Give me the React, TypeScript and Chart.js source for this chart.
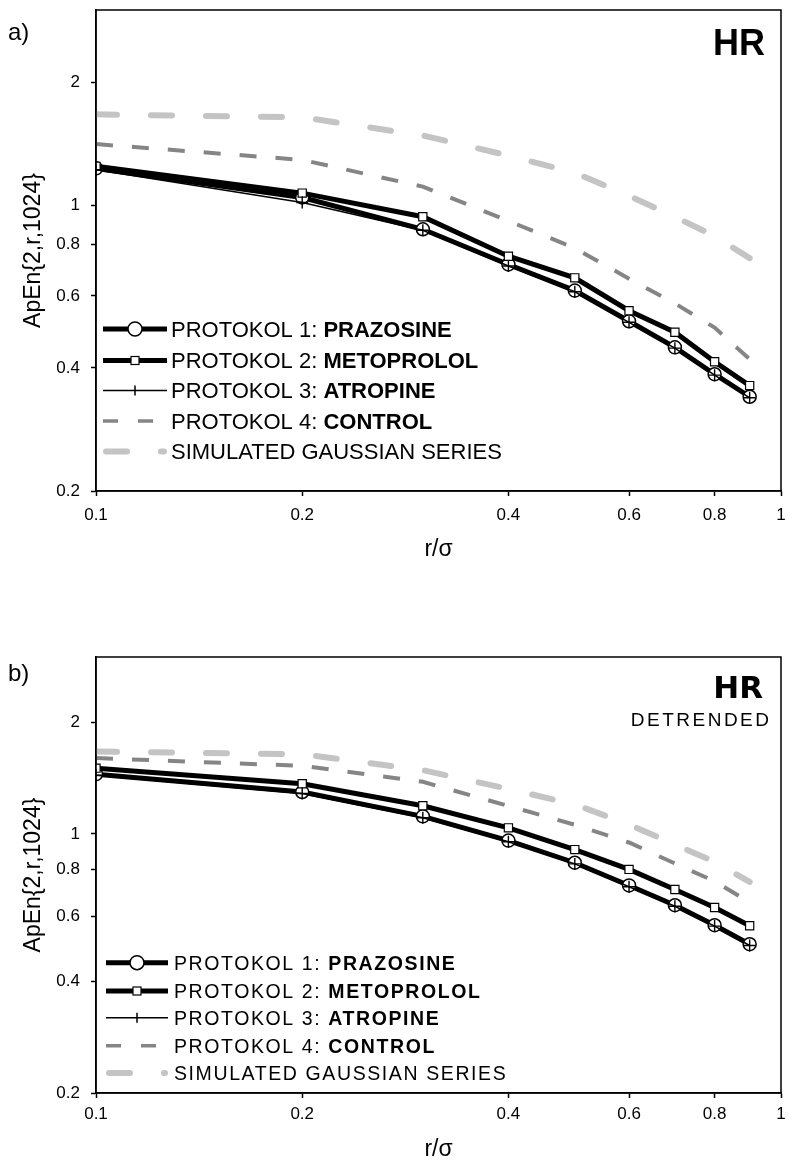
import React, { useEffect, useRef } from "react";
import { Chart, registerables } from "chart.js";

Chart.register(...registerables);

// ---------- data ----------
const rValues = [0.1, 0.2, 0.3, 0.4, 0.5, 0.6, 0.7, 0.8, 0.9];
const xTickValues = [0.1, 0.2, 0.4, 0.6, 0.8, 1];
const xTickLabels = ["0.1", "0.2", "0.4", "0.6", "0.8", "1"];
const yTickValues = [0.2, 0.4, 0.6, 0.8, 1, 2];
const yTickLabels = ["0.2", "0.4", "0.6", "0.8", "1", "2"];

const seriesNames = [
  ["PROTOKOL 1: ", "PRAZOSINE"],
  ["PROTOKOL 2: ", "METOPROLOL"],
  ["PROTOKOL 3: ", "ATROPINE"],
  ["PROTOKOL 4: ", "CONTROL"],
  ["SIMULATED GAUSSIAN SERIES", ""],
];

// panel a) HR
const prazosineA = [1.23, 1.044, 0.873, 0.716, 0.618, 0.52, 0.449, 0.386, 0.34];
const metoprololA = [1.244, 1.07, 0.937, 0.75, 0.664, 0.552, 0.489, 0.414, 0.362];
const atropineA = [1.22, 1.015, 0.868, 0.71, 0.614, 0.517, 0.447, 0.384, 0.338];
const controlA = [1.41, 1.29, 1.11, 0.915, 0.785, 0.661, 0.575, 0.502, 0.42];
const gaussianA = [1.667, 1.64, 1.48, 1.322, 1.2, 1.054, 0.936, 0.84, 0.742];

// panel b) HR detrended
const prazosineB = [1.449, 1.297, 1.115, 0.959, 0.836, 0.726, 0.642, 0.567, 0.504];
const metoprololB = [1.504, 1.365, 1.191, 1.038, 0.907, 0.802, 0.708, 0.633, 0.565];
const atropineB = [1.44, 1.285, 1.105, 0.952, 0.83, 0.72, 0.638, 0.564, 0.5];
const controlB = [1.601, 1.526, 1.382, 1.19, 1.058, 0.948, 0.832, 0.745, 0.654];
const gaussianB = [1.667, 1.64, 1.485, 1.322, 1.2, 1.06, 0.936, 0.84, 0.742];

const FONT = "'Liberation Sans', Arial, Helvetica, sans-serif";
const CTRL_COLOR = "#858585";
const GAUSS_COLOR = "#c4c4c4";

function pts(arr: number[]) {
  return rValues.map((x, i) => ({ x, y: arr[i] }));
}

function makeDatasets(praz: number[], meto: number[], atro: number[], ctrl: number[], gauss: number[]) {
  return [
    {
      label: "atropine",
      data: pts(atro),
      order: 0,
      borderColor: "#000",
      borderWidth: 1.5,
      pointStyle: "cross",
      pointRadius: 6,
      pointBorderWidth: 1.4,
      pointBorderColor: "#000",
      pointBackgroundColor: "#000",
      tension: 0,
    },
    {
      label: "metoprolol",
      data: pts(meto),
      order: 1,
      borderColor: "#000",
      borderWidth: 5,
      pointStyle: "rect",
      pointRadius: 5.8,
      pointBorderWidth: 1.2,
      pointBorderColor: "#000",
      pointBackgroundColor: "#fff",
      tension: 0,
    },
    {
      label: "prazosine",
      data: pts(praz),
      order: 2,
      borderColor: "#000",
      borderWidth: 5,
      pointStyle: "circle",
      pointRadius: 6.5,
      pointBorderWidth: 1.5,
      pointBorderColor: "#000",
      pointBackgroundColor: "#fff",
      tension: 0,
    },
    {
      label: "control",
      data: pts(ctrl),
      order: 3,
      borderColor: CTRL_COLOR,
      borderWidth: 4,
      borderDash: [17, 19],
      pointRadius: 0,
      tension: 0,
    },
    {
      label: "gaussian",
      data: pts(gauss),
      order: 4,
      borderColor: GAUSS_COLOR,
      borderWidth: 6,
      borderDash: [21, 34],
      borderCapStyle: "round",
      pointRadius: 0,
      tension: 0,
    },
  ];
}

type PanelCfg = {
  letter: string;
  letterY: number;
  yTitleX: number;
  xTitleY: number;
  hrX: number;
  hrY: number;
  hrFont: string;
  detrended: boolean;
  detX: number;
  detY: number;
  legRows: number[];
  legX0: number;
  legX1: number;
  legMX: number;
  legTX: number;
  legFont: number;
  legSpacing: number;
};

const overlayPlugin = {
  id: "overlay",
  afterDraw(chart: any, _args: any, cfg: PanelCfg) {
    const ctx: CanvasRenderingContext2D = chart.ctx;
    const { left, right, top, bottom } = chart.chartArea;
    ctx.save();
    // frame
    ctx.strokeStyle = "#000";
    ctx.lineWidth = 1.5;
    ctx.setLineDash([]);
    ctx.strokeRect(left, top, right - left, bottom - top);

    ctx.fillStyle = "#000";
    // panel letter
    ctx.font = `24px ${FONT}`;
    ctx.textAlign = "left";
    ctx.textBaseline = "alphabetic";
    ctx.fillText(cfg.letter, 8, cfg.letterY);

    // y title
    ctx.save();
    ctx.translate(cfg.yTitleX, (top + bottom) / 2);
    ctx.rotate(-Math.PI / 2);
    ctx.font = `23px ${FONT}`;
    ctx.textAlign = "center";
    ctx.fillText("ApEn{2,r,1024}", 0, 0);
    ctx.restore();

    // x title
    ctx.font = `23px ${FONT}`;
    ctx.textAlign = "center";
    ctx.fillText("r/\u03c3", (left + right) / 2, cfg.xTitleY);

    // HR label
    ctx.textAlign = "right";
    ctx.font = cfg.hrFont;
    ctx.fillText("HR", cfg.hrX, cfg.hrY);
    if (cfg.detrended) {
      ctx.font = `19px ${FONT}`;
      (ctx as any).letterSpacing = "2.5px";
      ctx.fillText("DETRENDED", cfg.detX + 2.5, cfg.detY);
      (ctx as any).letterSpacing = "0px";
    }

    // legend
    const x0 = cfg.legX0;
    const x1 = cfg.legX1;
    const mx = cfg.legMX;
    cfg.legRows.forEach((y, i) => {
      ctx.save();
      ctx.setLineDash([]);
      ctx.lineCap = "butt";
      ctx.strokeStyle = "#000";
      if (i === 0 || i === 1) {
        ctx.lineWidth = 5;
        ctx.beginPath();
        ctx.moveTo(x0, y);
        ctx.lineTo(x1, y);
        ctx.stroke();
        ctx.fillStyle = "#fff";
        if (i === 0) {
          ctx.lineWidth = 1.5;
          ctx.beginPath();
          ctx.arc(mx, y, 7, 0, Math.PI * 2);
          ctx.fill();
          ctx.stroke();
        } else {
          ctx.lineWidth = 1.2;
          ctx.fillRect(mx - 4, y - 4, 8, 8);
          ctx.strokeRect(mx - 4, y - 4, 8, 8);
        }
      } else if (i === 2) {
        ctx.lineWidth = 1.5;
        ctx.beginPath();
        ctx.moveTo(x0, y);
        ctx.lineTo(x1, y);
        ctx.moveTo(mx, y - 5);
        ctx.lineTo(mx, y + 5);
        ctx.stroke();
      } else if (i === 3) {
        ctx.strokeStyle = CTRL_COLOR;
        ctx.lineWidth = 3.5;
        ctx.setLineDash([15, 20]);
        ctx.beginPath();
        ctx.moveTo(x0, y);
        ctx.lineTo(x1, y);
        ctx.stroke();
      } else {
        ctx.strokeStyle = GAUSS_COLOR;
        ctx.lineWidth = 6;
        ctx.lineCap = "round";
        ctx.setLineDash([21, 34]);
        ctx.beginPath();
        ctx.moveTo(x0 + 3, y);
        ctx.lineTo(x1 - 3, y);
        ctx.stroke();
      }
      ctx.restore();

      const fs = cfg.legFont;
      const base = y + fs * 0.358;
      (ctx as any).letterSpacing = `${cfg.legSpacing}px`;
      ctx.textAlign = "left";
      ctx.fillStyle = "#000";
      ctx.font = `${fs}px ${FONT}`;
      const [reg, bold] = seriesNames[i];
      ctx.fillText(reg, cfg.legTX, base);
      const w = ctx.measureText(reg).width;
      if (bold) {
        ctx.font = `bold ${fs}px ${FONT}`;
        ctx.fillText(bold, cfg.legTX + w, base);
      }
      (ctx as any).letterSpacing = "0px";
    });
    ctx.restore();
  },
};

function makeConfig(
  datasets: any[],
  canvasH: number,
  plotTop: number,
  plotBottom: number,
  xPad: number,
  cfg: PanelCfg
): any {
  return {
    type: "line",
    data: { datasets },
    plugins: [overlayPlugin],
    options: {
      responsive: false,
      animation: false,
      devicePixelRatio: 1,
      events: [],
      layout: { padding: { top: plotTop, right: 2, left: 0, bottom: 0 } },
      plugins: {
        legend: { display: false },
        tooltip: { enabled: false },
        overlay: cfg,
      },
      scales: {
        x: {
          type: "logarithmic",
          position: "bottom",
          min: 0.1,
          max: 1,
          afterBuildTicks: (s: any) => {
            s.ticks = xTickValues.map((v) => ({ value: v }));
          },
          afterFit: (s: any) => {
            s.height = canvasH - plotBottom;
            s.paddingLeft = 0;
            s.paddingRight = 0;
          },
          ticks: {
            autoSkip: false,
            maxRotation: 0,
            minRotation: 0,
            padding: xPad,
            color: "#000",
            font: { family: FONT, size: 17 },
            callback: (_v: any, i: number) => xTickLabels[i],
          },
          grid: {
            drawOnChartArea: false,
            drawTicks: true,
            tickLength: 5,
            tickWidth: 1.5,
            tickColor: "#000",
          },
          border: { display: true, color: "#000", width: 1.5 },
        },
        y: {
          type: "logarithmic",
          position: "left",
          min: 0.2,
          max: 3,
          afterBuildTicks: (s: any) => {
            s.ticks = yTickValues.map((v) => ({ value: v }));
          },
          afterFit: (s: any) => {
            s.width = 96;
            s.paddingTop = 0;
            s.paddingBottom = 0;
          },
          ticks: {
            autoSkip: false,
            padding: 11,
            color: "#000",
            font: { family: FONT, size: 17 },
            callback: (_v: any, i: number) => yTickLabels[i],
          },
          grid: {
            drawOnChartArea: false,
            drawTicks: true,
            tickLength: 5,
            tickWidth: 1.5,
            tickColor: "#000",
          },
          border: { display: true, color: "#000", width: 1.5 },
        },
      },
    },
  };
}

const cfgA: PanelCfg = {
  letter: "a)",
  letterY: 40,
  yTitleX: 40,
  xTitleY: 556,
  hrX: 765,
  hrY: 55,
  hrFont: `bold 36px ${FONT}`,
  detrended: false,
  detX: 0,
  detY: 0,
  legRows: [329, 360.5, 390.5, 421, 451.5],
  legX0: 103,
  legX1: 167,
  legMX: 135,
  legTX: 171,
  legFont: 22,
  legSpacing: 0,
};

const cfgB: PanelCfg = {
  letter: "b)",
  letterY: 101,
  yTitleX: 40,
  xTitleY: 576,
  hrX: 763,
  hrY: 118,
  hrFont: `bold 31px 'DejaVu Sans', ${FONT}`,
  detrended: true,
  detX: 769,
  detY: 146,
  legRows: [382.7, 411, 437.7, 465.7, 493],
  legX0: 106,
  legX1: 168,
  legMX: 137,
  legTX: 174,
  legFont: 19.5,
  legSpacing: 1.6,
};

export default function App() {
  const refA = useRef<HTMLCanvasElement | null>(null);
  const refB = useRef<HTMLCanvasElement | null>(null);

  useEffect(() => {
    const charts: Chart[] = [];
    if (refA.current) {
      charts.push(
        new Chart(
          refA.current,
          makeConfig(
            makeDatasets(prazosineA, metoprololA, atropineA, controlA, gaussianA),
            580,
            10,
            491,
            9,
            cfgA
          )
        )
      );
    }
    if (refB.current) {
      charts.push(
        new Chart(
          refB.current,
          makeConfig(
            makeDatasets(prazosineB, metoprololB, atropineB, controlB, gaussianB),
            583,
            77,
            513,
            6,
            cfgB
          )
        )
      );
    }
    return () => charts.forEach((c) => c.destroy());
  }, []);

  return (
    <div
      style={{
        position: "absolute",
        left: 0,
        top: 0,
        width: 789,
        height: 1163,
        background: "#fff",
      }}
    >
      <canvas ref={refA} width={789} height={580} style={{ display: "block", width: 789, height: 580 }} />
      <canvas ref={refB} width={789} height={583} style={{ display: "block", width: 789, height: 583 }} />
    </div>
  );
}
